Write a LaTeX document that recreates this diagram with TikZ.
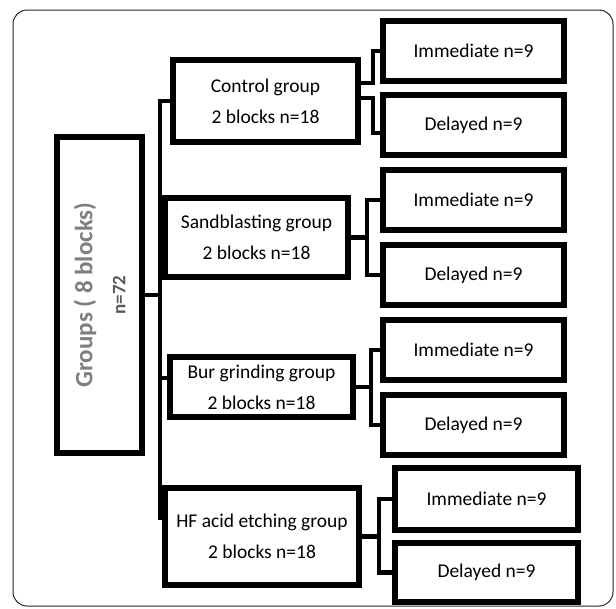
\documentclass[tikz,border=0pt]{standalone}
\usepackage{fontspec}
\setmainfont{Carlito}

\definecolor{gristitre}{HTML}{7F7F7F}
\definecolor{grisn}{HTML}{595959}

\begin{document}
\begin{tikzpicture}[x=1pt, y=-1pt]
	\tikzset{boite/.style={rectangle, draw=black, line width=5.5pt, text centered, align=center, inner sep=0pt, font=\fontsize{19.5}{31}\selectfont},
	feuille/.style={boite, minimum width=181pt, minimum height=60pt},
	lien/.style={line width=4.5pt}};

	\useasboundingbox (0, 0) rectangle (616, 608);
	\draw[rounded corners=14pt, draw=black!85, line width=1pt] (13, 10) rectangle (613, 606);

	\node[boite, rotate=90, minimum width=316pt, minimum height=85pt, font=\bfseries\fontsize{19}{33}\selectfont] (groupes) at (99.5, 295) {{\color{gristitre}\fontsize{25}{33}\selectfont Groups ( 8 blocks)}\\{\color{grisn}n=72}};

	\node[boite, minimum width=185pt, minimum height=82pt] (controle) at (265.5, 101) {Control group\\2 blocks n=18};
	\node[boite, minimum width=183pt, minimum height=79pt] (sable) at (256.5, 237.5) {Sandblasting group\\2 blocks n=18};
	\node[boite, minimum width=183pt, minimum height=60pt] (fraise) at (261.5, 387) {Bur grinding group\\2 blocks n=18};
	\node[boite, minimum width=194pt, minimum height=97pt] (acide) at (262, 536.5) {HF acid etching group\\2 blocks n=18};

	\foreach \g/\yi/\yd in {controle/51/125, sable/200/275, fraise/350/425}{
		\node[feuille] (\g-i) at (473.5, \yi) {Immediate n=9};
		\node[feuille] (\g-d) at (473.5, \yd) {Delayed n=9};
	}
	\node[feuille, minimum width=183pt, minimum height=62pt] (acide-i) at (486.5, 499) {Immediate n=9};
	\node[feuille, minimum width=183pt, minimum height=59pt] (acide-d) at (486.5, 572.5) {Delayed n=9};

	\draw[lien] (groupes.south) -- ++(15, 0) coordinate (tronc);
	\draw[lien] (tronc) |- (controle.west);
	\draw[lien] (tronc) |- (sable.west);
	\draw[lien] (tronc) |- ([yshift=9pt]fraise.west);
	\draw[lien] (tronc) |- ([yshift=19pt]acide.west);

	\draw[lien] ([yshift=18pt]controle.east) -- ++(12, 0) |- (controle-i.west);
	\draw[lien] ([yshift=3pt]controle.east) -- ++(12, 0) |- ([yshift=-8pt]controle-d.west);

	\foreach \g/\d in {sable/16, fraise/15, acide/17}{
		\draw[lien] (\g.east) -- ++(\d, 0) coordinate (\g-f);
		\draw[lien] (\g-f) |- (\g-i.west);
		\draw[lien] (\g-f) |- (\g-d.west);
	}
\end{tikzpicture}
\end{document}
